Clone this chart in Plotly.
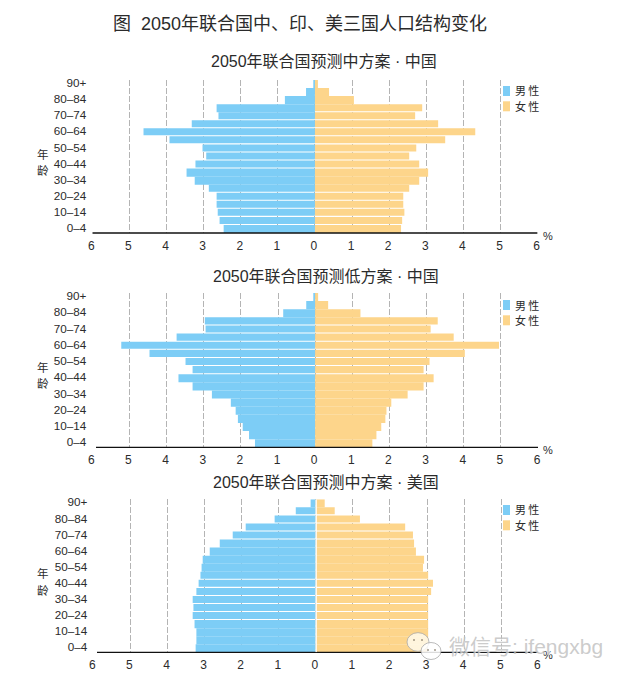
import plotly.graph_objects as go

W, H = 623, 678
AGES = ["90+", "85–89", "80–84", "75–79", "70–74", "65–69", "60–64", "55–59", "50–54", "45–49",
        "40–44", "35–39", "30–34", "25–29", "20–24", "15–19", "10–14", "5–9", "0–4"]
TICK_AGES = AGES[0::2]
TICKS = [-6, -5, -4, -3, -2, -1, 0, 1, 2, 3, 4, 5, 6]
TICK_TEXT = ["6", "5", "4", "3", "2", "1", "0", "1", "2", "3", "4", "5", "6"]

cn_mid_male = [0.03, 0.24, 0.81, 2.65, 2.60, 3.32, 4.62, 3.92, 3.03, 2.93, 3.22, 3.46, 3.24, 2.86, 2.65, 2.65, 2.62, 2.57, 2.46]
cn_mid_female = [0.08, 0.38, 1.05, 2.89, 2.70, 3.32, 4.32, 3.51, 2.73, 2.54, 2.81, 3.05, 2.81, 2.54, 2.38, 2.38, 2.41, 2.35, 2.32]
cn_low_male = [0.05, 0.24, 0.86, 2.97, 2.95, 3.73, 5.22, 4.46, 3.49, 3.30, 3.68, 3.30, 2.78, 2.27, 2.14, 2.08, 1.95, 1.78, 1.62]
cn_low_female = [0.08, 0.35, 1.22, 3.30, 3.11, 3.73, 4.95, 4.03, 3.08, 2.92, 3.19, 2.92, 2.49, 2.05, 1.92, 1.89, 1.78, 1.65, 1.54]
us_mid_male = [0.14, 0.54, 1.11, 1.89, 2.24, 2.59, 2.86, 3.05, 3.08, 3.11, 3.16, 3.22, 3.32, 3.30, 3.32, 3.27, 3.22, 3.22, 3.24]
us_mid_female = [0.24, 0.51, 1.19, 2.41, 2.62, 2.65, 2.70, 2.92, 2.89, 3.03, 3.16, 3.11, 3.03, 3.03, 3.03, 3.03, 3.03, 3.03, 3.00]

TITLE = "图  2050年联合国中、印、美三国人口结构变化"
SUBTITLES = ["2050年联合国预测中方案 · 中国", "2050年联合国预测低方案 · 中国", "2050年联合国预测中方案 · 美国"]
MALE, FEMALE = "男\u2009性", "女\u2009性"
BLUE, ORANGE = "#7dcdf6", "#fdd58b"
INK = "#2b2b2b"
FONT = "Liberation Sans, Noto Sans CJK SC"

# panel geometry in pixels: plot box, title centre, 年/龄 centres, baseline start
PANELS = [
    dict(x0=92.3, x1=537.6, top=80, bottom=233, title_x=324, title_y=62, nian=(154, 170), base=-6,
         male=cn_mid_male, female=cn_mid_female,
         gap_m=[4, 5, 6, 7, 8, 9, 10, 13, 14, 15, 16, 17],
         gap_f=[3, 4, 5, 6, 7, 8, 9, 10, 13, 14, 15, 16, 17], legend_y=86, centre=False),
    dict(x0=92.3, x1=538, top=293, bottom=447.3, title_x=326, title_y=277, nian=(367, 383), base=-5.9,
         male=cn_low_male, female=cn_low_female,
         gap_m=[3, 4, 5, 6, 7, 8, 9], gap_f=[3, 4, 5, 6, 7, 8, 9], legend_y=300, centre=False),
    dict(x0=93.3, x1=538.3, top=499.3, bottom=652.3, title_x=326, title_y=482, nian=(573, 590), base=-5.9,
         male=us_mid_male, female=us_mid_female,
         gap_m=[1, 2, 3, 4, 9, 10, 11, 12, 13, 14], gap_f=[1, 2, 3, 4, 9, 10, 11, 12, 13, 14], legend_y=505, centre=True),
]

GAP = 0.13


def px(x):
    return x / W


def py(y):
    return 1 - y / H


def widths(gaps):
    return [1 - GAP if i in gaps else 1 for i in range(len(AGES))]


fig = go.Figure()
shapes, annotations = [], []


def text(x, y, s, size, color=INK, anchor="center", **font):
    annotations.append(dict(x=px(x), y=py(y), xref="paper", yref="paper", text=s, showarrow=False,
                            xanchor=anchor, yanchor="middle", align=anchor if anchor != "center" else "center",
                            font=dict(family=FONT, size=size, color=color, **font)))


text(300, 24, TITLE, 18)

for n, p in enumerate(PANELS):
    sfx = "" if n == 0 else str(n + 1)
    xa, ya = "x" + sfx, "y" + sfx
    fig.add_bar(y=AGES, x=[-v for v in p["male"]], orientation="h", name="男性", xaxis=xa, yaxis=ya,
                width=widths(p["gap_m"]), offset=-0.5, marker=dict(color=BLUE, line=dict(width=0)), showlegend=False)
    fig.add_bar(y=AGES, x=p["female"], orientation="h", name="女性", xaxis=xa, yaxis=ya,
                width=widths(p["gap_f"]), offset=-0.5, marker=dict(color=ORANGE, line=dict(width=0)), showlegend=False)
    fig.update_layout(**{
        "xaxis" + sfx: dict(domain=[px(p["x0"]), px(p["x1"])], range=[-6, 6], anchor=ya,
                            tickmode="array", tickvals=TICKS, ticktext=TICK_TEXT, ticks="", ticklabelstandoff=4,
                            ticklabelshift=-1,
                            showgrid=True, gridcolor="#b4b4b4", griddash="6px,2px", gridwidth=1,
                            zeroline=False, showline=False, tickfont=dict(family=FONT, size=12, color=INK)),
        "yaxis" + sfx: dict(domain=[py(p["bottom"]), py(p["top"])], range=[18.5, -0.5], anchor=xa,
                            type="category", categoryorder="array", categoryarray=AGES,
                            tickmode="array", tickvals=TICK_AGES, ticktext=TICK_AGES, ticks="",
                            ticklabelstandoff=5, ticklabelshift=1,
                            showgrid=False, zeroline=False, showline=False,
                            tickfont=dict(family=FONT, size=11.7, color=INK)),
    })
    # baseline
    shapes.append(dict(type="line", xref=xa, yref="paper", x0=p["base"], x1=6, y0=py(p["bottom"]), y1=py(p["bottom"]),
                       line=dict(color="#111111", width=1.3), layer="above"))
    if p["centre"]:
        shapes.append(dict(type="line", xref=xa, yref=ya, x0=0.01, x1=0.01, y0=-0.5, y1=18.5,
                           line=dict(color="white", width=1.3), layer="above"))
    text(p["title_x"], p["title_y"], SUBTITLES[n], 16)
    text(43, p["nian"][0], "年", 11.5)
    text(43, p["nian"][1], "龄", 11.5)
    text(547.5, p["bottom"] + 3, "%", 11)
    # legend
    for k, (label, col) in enumerate([(MALE, BLUE), (FEMALE, ORANGE)]):
        ly = p["legend_y"] + 15.3 * k
        shapes.append(dict(type="rect", xref="paper", yref="paper", x0=px(503), x1=px(510), y0=py(ly), y1=py(ly + 10),
                           fillcolor=col, line=dict(width=0), layer="above"))
        text(513, ly + 5, label, 11, anchor="left")

# watermark
WM_TEXT = "微信号: ifengxbg"
for cx, cy, r, fill in [(418, 642, 11, "rgba(255,250,235,0.85)"), (431, 651, 10, "rgba(255,255,255,0.85)")]:
    shapes.append(dict(type="circle", xref="paper", yref="paper", x0=px(cx - r), x1=px(cx + r),
                       y0=py(cy + r * 0.85), y1=py(cy - r * 0.85), fillcolor=fill,
                       line=dict(color="rgba(170,170,170,0.8)", width=1), layer="above"))
for cx, cy in [(414, 640), (422, 640), (428, 650), (435, 650)]:
    shapes.append(dict(type="circle", xref="paper", yref="paper", x0=px(cx - 1), x1=px(cx + 1),
                       y0=py(cy + 1), y1=py(cy - 1), fillcolor="rgba(120,110,90,0.7)", line=dict(width=0), layer="above"))
text(447, 646, WM_TEXT, 21, color="rgba(190,190,190,0.8)", anchor="left", shadow="1px 1px 1px rgba(255,255,255,0.9)")

fig.update_layout(width=W, height=H, margin=dict(l=0, r=0, t=0, b=0, autoexpand=False), barmode="overlay",
                  plot_bgcolor="white", paper_bgcolor="white", showlegend=False,
                  shapes=shapes, annotations=annotations, font=dict(family=FONT))
fig.write_html("out.html", config=dict(displayModeBar=False),
               post_script="document.body.style.margin='0';document.documentElement.style.overflow='hidden';")
